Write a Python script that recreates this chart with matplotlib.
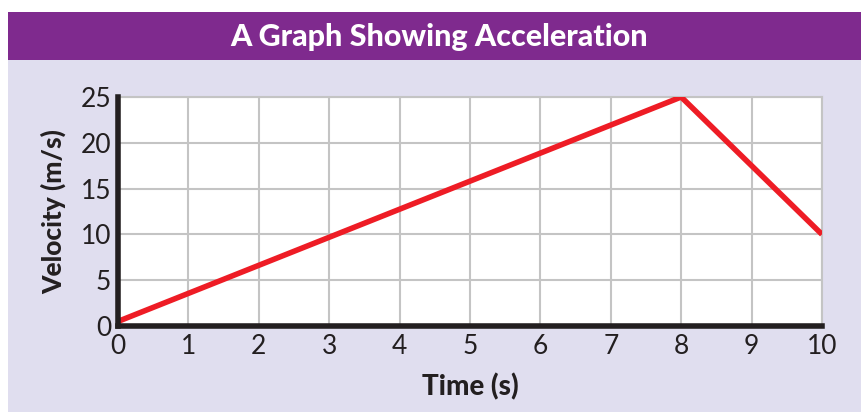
import matplotlib.pyplot as plt
from matplotlib.patches import Rectangle

# Datos
time_s = [0, 8, 10]
velocity = [0.5, 25, 10]
x_ticks = list(range(0, 11))
y_ticks = [0, 5, 10, 15, 20, 25]

plt.rcParams['font.family'] = ['Lato', 'DejaVu Sans']

fig = plt.figure(figsize=(8.61, 4.12), dpi=100)
fig.patch.set_facecolor('white')

# Panel lavanda y barra del título
fig.add_artist(Rectangle((8 / 861, 0), 1, 1 - 60 / 412, transform=fig.transFigure,
                         facecolor='#E0DEEF', edgecolor='none', zorder=0))
fig.add_artist(Rectangle((8 / 861, 1 - 60 / 412), 1, 48 / 412, transform=fig.transFigure,
                         facecolor='#7F2A8E', edgecolor='none', zorder=0))
fig.text(439 / 861, 1 - 37 / 412, 'A Graph Showing Acceleration', color='white',
         fontsize=22, fontweight='black', ha='center', va='center')

ax = fig.add_axes([118 / 861, 1 - 326 / 412, 704 / 861, 229 / 412])
ax.set_facecolor('white')
ax.plot(time_s, velocity, color='#EE1C25', linewidth=4, solid_capstyle='butt', zorder=3)

ax.set_xlim(0, 10)
ax.set_ylim(0, 25)
ax.set_xticks(x_ticks)
ax.set_yticks(y_ticks)
ax.grid(True, color='#C4C4C4', linewidth=1.5)
ax.tick_params(length=0, labelsize=19, colors='#231F20')
ax.tick_params(axis='x', pad=6)
ax.tick_params(axis='y', pad=5)

for side in ['top', 'right']:
    ax.spines[side].set_color('#C4C4C4')
    ax.spines[side].set_linewidth(1.5)
for side in ['left', 'bottom']:
    ax.spines[side].set_color('#231F20')
    ax.spines[side].set_linewidth(4)
    ax.spines[side].set_zorder(4)

ax.set_xlabel('Time (s)', fontsize=20, fontweight='black', color='#231F20', labelpad=10)
ax.set_ylabel('Velocity (m/s)', fontsize=19, fontweight='black', color='#231F20', labelpad=10)

plt.savefig('out.png', dpi=100)
